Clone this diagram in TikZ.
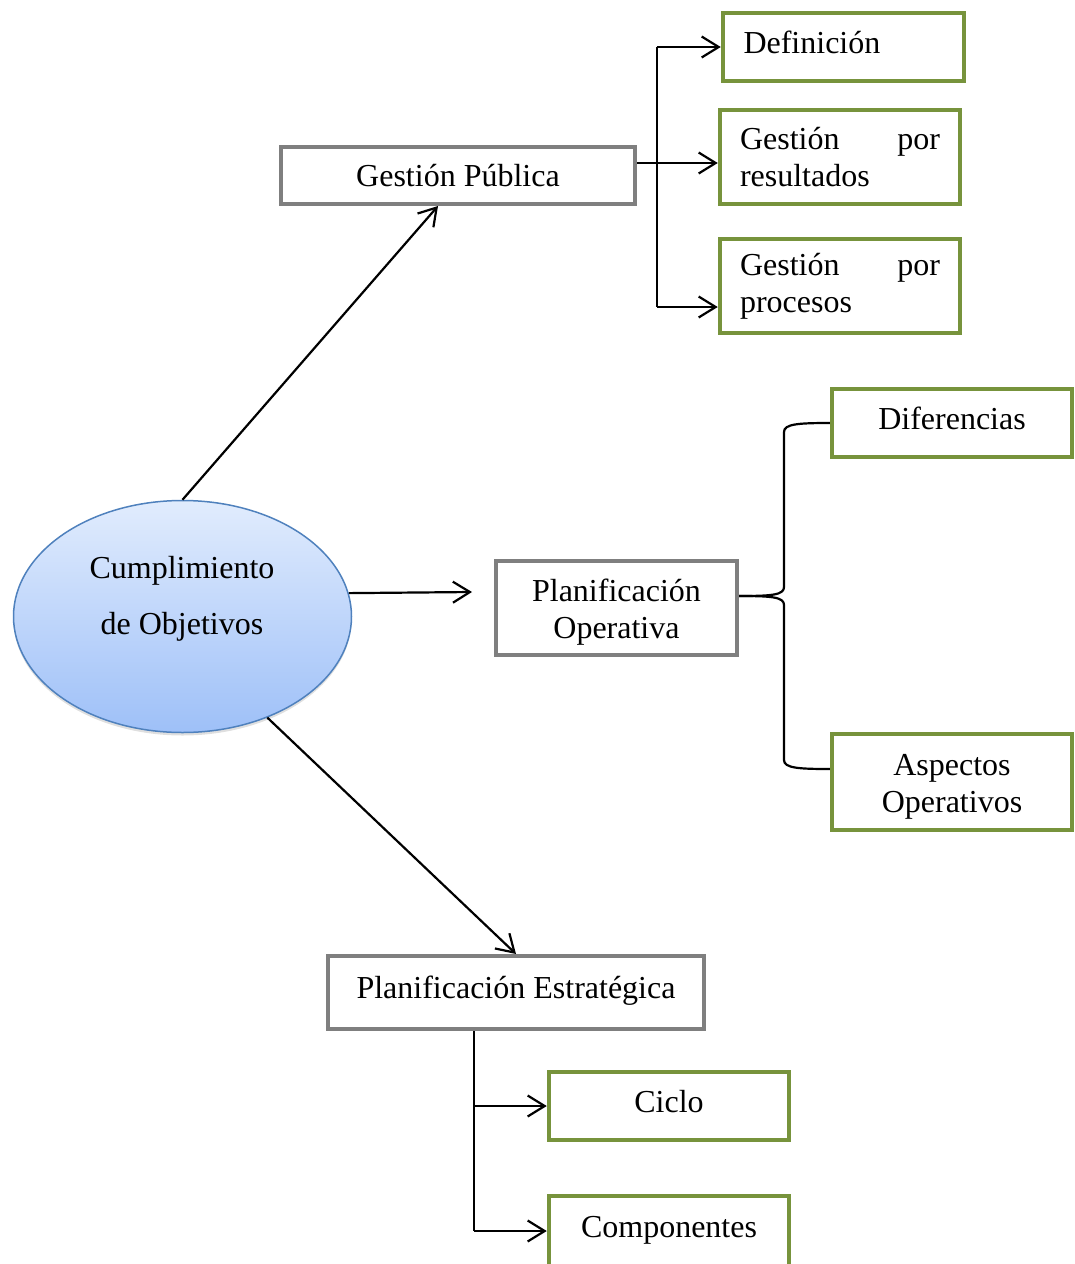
\documentclass[tikz,border=0pt]{standalone}
\usepackage{fontspec}
\setmainfont{Liberation Serif}
\usetikzlibrary{arrows.meta,shapes.geometric,shadows}
\definecolor{boxgray}{RGB}{127,127,127}
\definecolor{boxgreen}{RGB}{119,147,60}
\definecolor{ellline}{RGB}{79,129,189}
\definecolor{elltop}{RGB}{225,236,253}
\definecolor{ellbot}{RGB}{158,192,248}
\begin{document}
\begin{tikzpicture}[x=1pt,y=-1pt,
  txt/.style={font=\fontsize{32}{37}\selectfont},
  graybox/.style={draw=boxgray,line width=4pt,rectangle,txt,align=center,inner sep=0pt},
  greenbox/.style={draw=boxgreen,line width=4.5pt,rectangle,txt,inner sep=0pt},
  oneline/.style={text height=22pt,text depth=10pt},
  twoline/.style={text height=67pt,text depth=7pt},
  arr/.style={line width=2.2pt,-{Straight Barb[length=17pt,width=21pt]}},
  ln/.style={line width=2.2pt},
]
\useasboundingbox (0,0) rectangle (1074,1264);

% boxes
\node[graybox,minimum width=354pt,minimum height=57pt] (gp) at (458,175.5) {Gestión Pública};
\node[greenbox,oneline,minimum width=241pt,minimum height=68pt,text width=200pt,align=left] (def) at (843.5,47) {Definición};
\node[greenbox,minimum width=240pt,minimum height=94pt,text width=200pt,align=left] (gpr) at (840,157) {Gestión\hfill por\\resultados};
\node[greenbox,minimum width=240pt,minimum height=94pt,text width=200pt,align=left] (gpp) at (840,286) {Gestión\hfill por\\procesos};
\node[graybox,twoline,minimum width=241pt,minimum height=94pt] (po) at (616.5,608) {Planificación\\Operativa};
\node[greenbox,oneline,minimum width=240pt,minimum height=68pt,align=center] (dif) at (952,423) {Diferencias};
\node[greenbox,twoline,minimum width=240pt,minimum height=96pt,align=center] (asp) at (952,782) {Aspectos\\Operativos};
\node[graybox,oneline,minimum width=376pt,minimum height=73pt] (pe) at (516,992.5) {Planificación Estratégica};
\node[greenbox,oneline,minimum width=240pt,minimum height=68pt,align=center] (ciclo) at (669,1106) {Ciclo};
\node[greenbox,oneline,minimum width=240pt,minimum height=70pt,align=center] (comp) at (669,1231) {Componentes};

% ellipse
\node[ellipse,draw=ellline,line width=1.5pt,top color=elltop,bottom color=ellbot,
      minimum width=338pt,minimum height=232pt,
      drop shadow={shadow xshift=0pt,shadow yshift=-3pt,opacity=0.25}] (obj) at (182.5,616.5) {};
\node[align=center,font=\fontsize{32}{56}\selectfont] (objt) at (182,599) {Cumplimiento\\de Objetivos};

% connectors from ellipse
\draw[arr] (obj.north) -- ([xshift=-20pt]gp.south);
\draw[arr] (obj.8) -- ([xshift=-22pt,yshift=16pt]po.west);
\draw[arr] (obj.-50) -- (pe.north);

% Gestion publica branches
\draw[arr] ([yshift=12.5pt]gp.east) -- ([yshift=-6pt]gpr.west);
\coordinate (gx) at ([xshift=-64pt]def.west);
\coordinate (gy) at ([yshift=-21pt]gpp.west);
\draw[ln] (gx) -- (gx |- gy);
\draw[arr] (gx) -- (def.west);
\draw[arr] (gx |- gy) -- (gy);

% brace for Planificacion Operativa
\coordinate (bt) at ([yshift=12pt]po.east);
\draw[ln] (bt) .. controls (772,596) and (784,595) .. (784,587) -- (784,432) .. controls (784,424) and (798,423) .. (dif.west);
\draw[ln] (bt) .. controls (772,596) and (784,597) .. (784,605) -- (784,760) .. controls (784,768) and (798,769) .. ([yshift=13pt]asp.west);

% Planificacion Estrategica branches
\coordinate (px) at ([xshift=-42pt]pe.south);
\draw[ln] (px) -- (px |- comp.west);
\draw[arr] (px |- ciclo.west) -- (ciclo.west);
\draw[arr] (px |- comp.west) -- (comp.west);
\end{tikzpicture}
\end{document}
